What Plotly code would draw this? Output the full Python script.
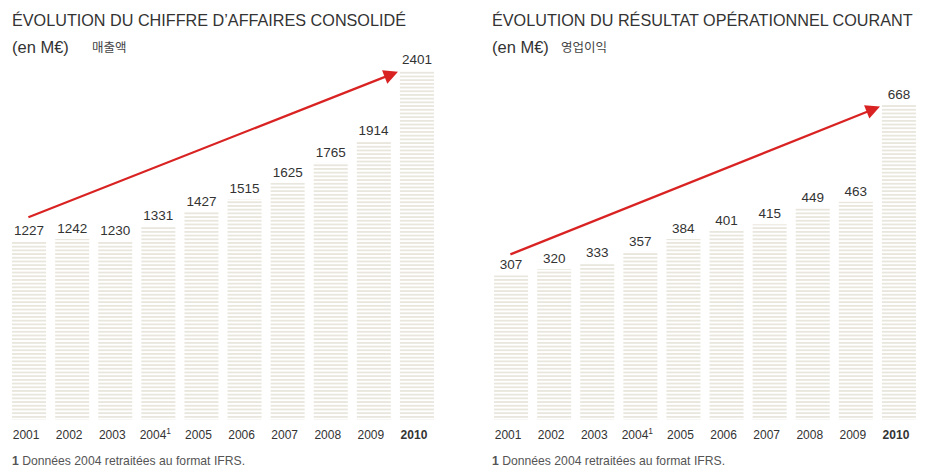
"""Two striped bar charts: consolidated revenue and operating income, 2001-2010."""

import plotly.graph_objects as go

years = ["2001", "2002", "2003", "2004", "2005", "2006", "2007", "2008", "2009", "2010"]
year_labels = ["2001", "2002", "2003", "2004<sup>1</sup>", "2005", "2006",
               "2007", "2008", "2009", "<b>2010</b>"]
revenue = [1227, 1242, 1230, 1331, 1427, 1515, 1625, 1765, 1914, 2401]
op_income = [307, 320, 333, 357, 384, 401, 415, 449, 463, 668]

FONT = "Liberation Sans, Arial, sans-serif"
TEXT = "#333333"
STRIPE = "#cbc6ae"
RED = "#d92323"
W, H = 936, 470
OFF = 8  # the page body adds an 8px margin, so lay out 8px up/left


def px_x(x):
    return (x - OFF) / W


def px_y(y):
    return 1 - (y - OFF) / H


def bar_trace(values, xaxis, yaxis):
    return go.Bar(
        x=years,
        y=values,
        xaxis=xaxis,
        yaxis=yaxis,
        text=[str(v) for v in values],
        textposition="outside",
        cliponaxis=False,
        textfont=dict(family=FONT, size=13.5, color=TEXT),
        marker=dict(
            color="white",
            line=dict(width=0),
            pattern=dict(shape="-", fgcolor=STRIPE, bgcolor="white",
                         size=3.7, solidity=0.42, fillmode="overlay"),
        ),
        hoverinfo="x+y",
        showlegend=False,
    )


fig = go.Figure()
fig.add_trace(bar_trace(revenue, "x", "y"))
fig.add_trace(bar_trace(op_income, "x2", "y2"))

axis_common = dict(
    type="category",
    tickmode="array",
    tickvals=years,
    ticktext=year_labels,
    tickfont=dict(family=FONT, size=12, color=TEXT),
    ticklabelstandoff=6,
    ticklabelshift=-3,
    showgrid=False,
    zeroline=False,
    showline=False,
    ticks="",
    fixedrange=True,
)
yaxis_common = dict(visible=False, showgrid=False, zeroline=False, fixedrange=True)

# each category slot is ~43.1px wide; left slot edge would be at 7.5px
pitch = 431 / 10
left_start = max(7.5, OFF)

# bars sit on y=420px; tallest bar top near 70px (left) / 105px (right)
bottom = 1 - (420 - OFF) / H
fig.update_layout(
    width=W,
    height=H,
    margin=dict(l=0, r=0, t=0, b=0),
    paper_bgcolor="white",
    plot_bgcolor="white",
    bargap=0.21,
    xaxis=dict(axis_common, domain=[px_x(left_start), px_x(438.5)], anchor="y",
               range=[-0.5 + (left_start - 7.5) / pitch, 9.5]),
    xaxis2=dict(axis_common, domain=[px_x(489.5), px_x(920.5)], anchor="y2",
                range=[-0.5, 9.5]),
    yaxis=dict(yaxis_common, domain=[bottom, 1], anchor="x",
               range=[0, max(revenue) * (420 - OFF) / 350]),
    yaxis2=dict(yaxis_common, domain=[bottom, 1], anchor="x2",
                range=[0, max(op_income) * (420 - OFF) / 315]),
)

annotations = []

# titles, units and footnotes
for x0, title, korean, kx in [
    (12, "ÉVOLUTION DU CHIFFRE D’AFFAIRES CONSOLIDÉ", "매출액", 90),
    (492, "ÉVOLUTION DU RÉSULTAT OPÉRATIONNEL COURANT", "영업이익", 559),
]:
    annotations.append(dict(
        x=px_x(x0 - 2), y=px_y(20), xref="paper", yref="paper", xanchor="left", yanchor="middle",
        text=title, showarrow=False, font=dict(family=FONT, size=16.2, color=TEXT),
    ))
    annotations.append(dict(
        x=px_x(x0 - 2), y=px_y(47), xref="paper", yref="paper", xanchor="left", yanchor="middle",
        text="(en M€)", showarrow=False, font=dict(family=FONT, size=16.5, color=TEXT),
    ))
    annotations.append(dict(
        x=px_x(kx), y=px_y(46), xref="paper", yref="paper", xanchor="left", yanchor="middle",
        text=korean, showarrow=False,
        font=dict(family="Noto Sans CJK KR", size=12.5, color="#444444"),
    ))
    annotations.append(dict(
        x=px_x(x0 - 2), y=px_y(461), xref="paper", yref="paper", xanchor="left", yanchor="middle",
        text="<b>1</b> Données 2004 retraitées au format IFRS.", showarrow=False,
        font=dict(family=FONT, size=12.2, color="#555555"),
    ))

# growth arrows from first bar to last bar
for values, xr, yr, lift in [(revenue, "x", "y", 1.13), (op_income, "x2", "y2", 1.14)]:
    annotations.append(dict(
        x=8.56, y=values[-1] * 0.995, xref=xr, yref=yr,
        ax=-0.05, ay=values[0] * lift, axref=xr, ayref=yr,
        text="", showarrow=True, arrowhead=2, arrowsize=1.3,
        arrowwidth=2.2, arrowcolor=RED, standoff=0,
    ))

fig.update_layout(annotations=annotations)

fig.write_html("out.html")
